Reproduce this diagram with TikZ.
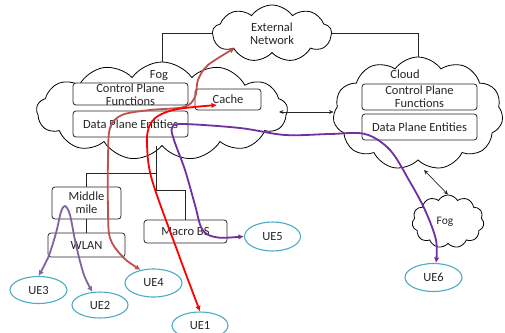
\documentclass[tikz,border=0pt]{standalone}
\usepackage{fontspec}
\setmainfont{Carlito}
\usetikzlibrary{shapes.symbols,shapes.geometric,arrows.meta}
\definecolor{uec}{HTML}{4BACC6}
\definecolor{brownc}{HTML}{C0504D}
\definecolor{purc}{HTML}{7030A0}
\definecolor{lavc}{HTML}{8064A2}
\definecolor{txtc}{HTML}{262626}
\begin{document}
\begin{tikzpicture}[x=1pt,y=-1pt,
  font=\fontsize{12.5}{13}\selectfont, text=txtc,
  cloudsh/.style={cloud, draw=black, line width=0.8pt, cloud ignores aspect, inner sep=0pt, fill=white},
  boxsh/.style={draw=black!85, line width=0.8pt, rounded corners=3pt, inner sep=0pt, fill=white},
  lbl/.style={align=center, text=txtc, inner sep=0pt},
  uesh/.style={ellipse, draw=uec, line width=1.1pt, inner sep=0pt},
  conn/.style={draw=black!85, line width=0.7pt},
  smallarr/.style={conn, {Stealth[length=4.5pt,width=4pt]}-{Stealth[length=4.5pt,width=4pt]}},
  flowb/.style={line width=1.8pt, {Latex[length=5.5pt,width=5.5pt]}-{Latex[length=5.5pt,width=5.5pt]}}
]
\useasboundingbox (0,0) rectangle (505,332);

% clouds
\node[cloudsh, cloud puffs=13, cloud puff arc=110, minimum width=251, minimum height=98] (fog) at (162,111) {};
\node[cloudsh, cloud puffs=11, cloud puff arc=110, minimum width=170, minimum height=113] (cloud) at (418,113.5) {};
\node[cloudsh, cloud puffs=9, cloud puff arc=110, minimum width=119, minimum height=57] (ext) at (272,33.5) {};
\node[cloudsh, cloud puffs=11, cloud puff arc=120, minimum width=72, minimum height=53] (sfog) at (448,221.5) {};

% connectors between clouds
\draw[conn] (ext.west) -| (fog);
\draw[conn] (ext.east) -| (cloud);
\coordinate (fe) at (279,112);
\draw[smallarr] (fe) -- (fe -| cloud.west);
\coordinate (cs) at (424,170);
\draw[smallarr] (cs) -- (sfog.north);

% labels in clouds
\node[lbl] (extl) at (ext) {External\\Network};
\node[lbl] (fogl) at (159,75.5) {Fog};
\node[lbl] (cloudl) at (405,74) {Cloud};
\node[lbl, font=\fontsize{11.5}{12}\selectfont] (sfogl) at (445,222) {Fog};

% boxes in fog
\node[boxsh, minimum width=115, minimum height=22, label={[lbl, yshift=-1pt]center:{Control Plane\\Functions}}] (fcp) at (130.5,94) {};
\node[boxsh, minimum width=115, minimum height=26, label={[lbl]center:{Data Plane Entities}}] (fdp) at (130.5,124) {};
\node[boxsh, minimum width=66, minimum height=21, label={[lbl]center:{Cache}}] (cache) at (228,99.5) {};
% boxes in cloud
\node[boxsh, minimum width=115, minimum height=26, label={[lbl]center:{Control Plane\\Functions}}] (ccp) at (419.5,97) {};
\node[boxsh, minimum width=115, minimum height=26, label={[lbl]center:{Data Plane Entities}}] (cdp) at (419.5,127) {};

% tree
\node[boxsh, minimum width=69, minimum height=32, label={[lbl]center:{Middle\\mile}}] (mm) at (86.5,203) {};
\node[boxsh, minimum width=77, minimum height=24, label={[lbl]center:{WLAN}}] (wlan) at (86.5,245) {};
\node[boxsh, minimum width=83, minimum height=23, label={[lbl]center:{Macro BS}}] (mbs) at (185.5,231.5) {};
\coordinate (j1) at (156,173);
\coordinate (j2) at (156,190);
\draw[conn] (fog.south -| j1) -- (j1) -| (mm);
\draw[conn] (j1) -- (j2) -| (mbs);
\draw[conn] (mm) -- (wlan);

% UEs
\node[uesh, minimum width=57, minimum height=27] (ue3) at (38.5,290) {UE3};
\node[uesh, minimum width=56, minimum height=26] (ue2) at (100,305) {UE2};
\node[uesh, minimum width=57, minimum height=28] (ue4) at (153.5,283) {UE4};
\node[uesh, minimum width=56, minimum height=27] (ue1) at (200,325.5) {UE1};
\node[uesh, minimum width=56, minimum height=29] (ue5) at (272.5,236.5) {UE5};
\node[uesh, minimum width=57, minimum height=28] (ue6) at (433.5,277.5) {UE6};

% flows
\coordinate (extin) at (235,48);
\coordinate (cachein) at (217,105);
\draw[flowb, brownc] plot[smooth, tension=0.55] coordinates {(ue4.135) (122,256) (110,238) (108,210) (108,160) (110,128) (122,115) (150,110) (184,107) (195,97) (198,80) (208,65) (extin)};
\draw[flowb, red] plot[smooth, tension=0.55] coordinates {(ue1.north) (177,250) (152,180) (147,145) (149,127) (158,116) (178,109) (cachein)};
\draw[flowb, purc] plot[smooth, tension=0.55] coordinates {(ue5.west) (215,237) (202,229) (195,205) (185,170) (174,140) (172,128) (182,124) (240,128) (285,135) (330,134) (365,134) (390,150) (410,182) (425,210) (436,240) (ue6.80)};
\draw[flowb, lavc] plot[smooth, tension=0.55] coordinates {(ue3.north) (48,258) (56,233) (61,212) (65,206) (70,215) (76,245) (84,275) (ue2.120)};
\end{tikzpicture}
\end{document}
